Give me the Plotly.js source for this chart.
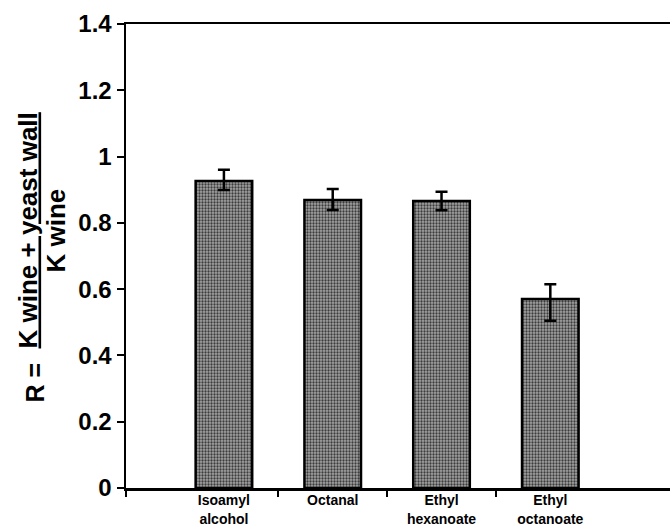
<!DOCTYPE html>
<html>
<head>
<meta charset="utf-8">
<script src="https://cdn.plot.ly/plotly-3.0.1.min.js"></script>
<style>html,body{margin:0;padding:0;background:#fff;}#chart{width:670px;height:527px;}</style>
</head>
<body>
<div id="chart"></div>
<script>
const categories = ["Isoamyl<br>alcohol", "Octanal", "Ethyl<br>hexanoate", "Ethyl<br>octanoate"];
const values = [0.926, 0.869, 0.866, 0.570];
const errPlus = [0.034, 0.033, 0.028, 0.045];
const errMinus = [0.027, 0.030, 0.028, 0.065];
const yTicks = [0, 0.2, 0.4, 0.6, 0.8, 1, 1.2, 1.4];

const xPos = categories.map((c, i) => i + 1);
const boundaries = [0.1].concat(categories.slice(1).map((c, i) => i + 1.5));

const trace = {
  type: "bar",
  x: xPos,
  y: values,
  width: 0.52,
  marker: {
    color: "#949494",
    line: {color: "#000", width: 2.5},
    pattern: {shape: ".", fgcolor: "#3c3c3c", bgcolor: "#a4a4a4", size: 3, solidity: 0.45}
  },
  error_y: {
    type: "data", symmetric: false,
    array: errPlus, arrayminus: errMinus,
    color: "#000", thickness: 2.5, width: 6
  },
  hoverinfo: "none"
};

const layout = {
  width: 670, height: 527,
  margin: {l: 126, r: 0, t: 24, b: 39},
  paper_bgcolor: "#fff", plot_bgcolor: "#fff",
  showlegend: false,
  font: {family: "Liberation Sans, Arial, sans-serif", color: "#000"},
  xaxis: {
    range: [0.1, 5.1],
    tickmode: "array", tickvals: xPos, ticktext: categories,
    ticks: "", showgrid: false, zeroline: false,
    showline: true, linecolor: "#000", linewidth: 2.5, mirror: true,
    tickfont: {size: 14, weight: "bold"},
    ticklabelstandoff: -2,
    minor: {tickmode: "array", tickvals: boundaries, ticks: "outside", ticklen: 6, tickwidth: 2, tickcolor: "#000", showgrid: false}
  },
  yaxis: {
    range: [0, 1.4],
    tickmode: "array", tickvals: yTicks,
    ticks: "outside", ticklen: 7, tickwidth: 2, tickcolor: "#000",
    showgrid: false, zeroline: false,
    showline: true, linecolor: "#000", linewidth: 2.5,
    tickfont: {size: 24, weight: "bold"}
  },
  annotations: [
    {xref: "paper", yref: "paper", x: 0, y: 0.555, xshift: -98, text: "<u>K wine + yeast wall</u>", textangle: -90,
     showarrow: false, font: {size: 26, weight: "bold"}, xanchor: "center", yanchor: "middle"},
    {xref: "paper", yref: "paper", x: 0, y: 0.555, xshift: -70, text: "K wine", textangle: -90,
     showarrow: false, font: {size: 26, weight: "bold"}, xanchor: "center", yanchor: "middle"},
    {xref: "paper", yref: "paper", x: 0, y: 0.555, xshift: -91, yshift: -152, text: "R =", textangle: -90,
     showarrow: false, font: {size: 25, weight: "bold"}, xanchor: "center", yanchor: "middle"}
  ]
};

Plotly.newPlot("chart", [trace], layout, {displayModeBar: false, staticPlot: true});
</script>
</body>
</html>
